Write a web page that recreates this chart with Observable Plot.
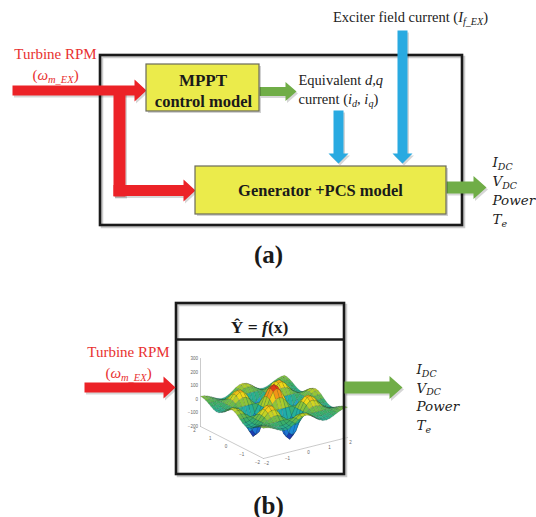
<!DOCTYPE html>
<html><head><meta charset="utf-8">
<script src="https://cdn.jsdelivr.net/npm/d3@7"></script>
<script src="https://cdn.jsdelivr.net/npm/@observablehq/plot@0.6"></script>
<style>html,body{margin:0;padding:0;background:#fff}svg{display:block}</style>
</head><body><div id="chart"></div>
<script>
// ================= DATA (text content and values) =================
const inputLabel = ["Turbine RPM", "(*ω*_{m_EX})"];
const outputLabels = ["*I*_{DC}", "*V*_{DC}", "*Power*", "*T*_{e}"];
const mpptLabel = ["MPPT", "control model"];
const generatorLabel = "Generator +PCS model";
const exciterLabel = "Exciter field current (*I*_{f_EX})";
const dqLabel = ["Equivalent *d*,*q*", "current (*i*_{d}, *i*_{q})"];
const surrogateLabel = "Ŷ = *f*(x)";
const panelLabels = ["(a)", "(b)"];

// 3-D surface thumbnail (symmetric): grid offsets from the centre (0..2) and estimated heights of one quadrant
const gridOffsets = [0, 0.167, 0.333, 0.5, 0.667, 0.833, 1, 1.167, 1.333, 1.5, 1.667, 1.833, 2];
const quadrantZ = [
  [150, 129, 72, 0, -110, -182, -195, -152, -68, 0, 32, 46, 40],
  [129, 110, 62, 0, -95, -157, -169, -131, -58, 0, 28, 39, 35],
  [72, 62, 35, 0, -54, -89, -95, -72, -32, 0, 16, 22, 20],
  [0, 0, 0, 0, 0, 0, 0, 0, 0, 0, 0, 0, 0],
  [-110, -95, -54, 0, 30, 48, 50, 39, 20, 0, -14, -20, -18],
  [-182, -157, -89, 0, 48, 77, 81, 63, 31, 0, -22, -30, -30],
  [-195, -169, -95, 0, 50, 81, 85, 65, 32, 0, -22, -31, -32],
  [-152, -131, -72, 0, 39, 63, 65, 50, 25, 0, -17, -26, -26],
  [-68, -58, -32, 0, 20, 31, 32, 25, 12, 0, -9, -13, -14],
  [0, 0, 0, 0, 0, 0, 0, 0, 0, 0, 0, 0, 0],
  [32, 28, 16, 0, -14, -22, -22, -17, -9, 0, 7, 11, 12],
  [46, 39, 22, 0, -20, -30, -31, -26, -13, 0, 11, 19, 20],
  [40, 35, 20, 0, -18, -30, -32, -26, -14, 0, 12, 20, 22]
];
const zTicks = [300, 200, 100, 0, -100, -200];
const uvTicks = [-2, -1, 0, 1, 2];

// ================= LAYOUT (diagram geometry in page pixels) =================
const W = 536, H = 517;
const RED = "#ec2227", GREEN = "#70ad47", BLUE = "#29aae1", YELLOW = "#ebeb4b", RED_TEXT = "#e8312f";
const frames = [
  {id: "frameA", x1: 100, y1: 55, x2: 462, y2: 225},
  {id: "frameB", x1: 176, y1: 303, x2: 344, y2: 474}
];
const boxes = [
  {id: "mppt", x1: 146, y1: 64, x2: 259, y2: 111},
  {id: "gen", x1: 195, y1: 166, x2: 446, y2: 214}
];
const arrowSpecs = [
  {from: [12, 90], to: [146, 90], w: 10, hl: 12, hw: 22, color: RED},
  {from: [119, 86], to: [119, 196], w: 12, hl: 0, hw: 0, color: RED},
  {from: [113, 190], to: [195, 190], w: 11, hl: 12, hw: 22, color: RED},
  {from: [259, 91], to: [296, 91], w: 9, hl: 11, hw: 19, color: GREEN},
  {from: [338, 110], to: [338, 163], w: 10, hl: 10, hw: 20, color: BLUE},
  {from: [402, 30], to: [402, 163], w: 10, hl: 10, hw: 20, color: BLUE},
  {from: [446, 187], to: [486, 187], w: 12, hl: 13, hw: 23, color: GREEN},
  {from: [84, 387], to: [175, 387], w: 10, hl: 12, hw: 22, color: RED},
  {from: [344, 387], to: [402, 387], w: 12, hl: 13, hw: 23, color: GREEN}
];
// 3-D projection of the thumbnail (u right-axis, v left-axis, z up)
const proj = (u, v, z) => [263 + 21 * (u + 2) - 15.75 * (v + 2), 458 - 5.25 * (u + 2) - 8 * (v + 2) - 0.136 * (z + 200)];

// ================= BUILD GEOMETRY =================
function arrowPoly(a, id, dx = 0, dy = 0) {
  const [x0, y0] = a.from, [x1, y1] = a.to;
  const L = Math.hypot(x1 - x0, y1 - y0), ux = (x1 - x0) / L, uy = (y1 - y0) / L;
  const nx = -uy, ny = ux;
  const bx = x1 - ux * a.hl, by = y1 - uy * a.hl;
  let pts;
  if (a.hl > 0) {
    pts = [[x0 + nx * a.w / 2, y0 + ny * a.w / 2], [bx + nx * a.w / 2, by + ny * a.w / 2], [bx + nx * a.hw / 2, by + ny * a.hw / 2],
      [x1, y1], [bx - nx * a.hw / 2, by - ny * a.hw / 2], [bx - nx * a.w / 2, by - ny * a.w / 2], [x0 - nx * a.w / 2, y0 - ny * a.w / 2]];
  } else {
    pts = [[x0 + nx * a.w / 2, y0 + ny * a.w / 2], [x1 + nx * a.w / 2, y1 + ny * a.w / 2], [x1 - nx * a.w / 2, y1 - ny * a.w / 2], [x0 - nx * a.w / 2, y0 - ny * a.w / 2]];
  }
  pts.push(pts[0]);
  return pts.map(([x, y]) => ({id, x: x + dx, y: y + dy, fill: a.color}));
}
const arrowPts = arrowSpecs.flatMap((a, i) => arrowPoly(a, "a" + i));
const arrowShadowPts = arrowSpecs.flatMap((a, i) => arrowPoly(a, "s" + i, 1.5, 2));

// full symmetric grid from the quadrant
const N = gridOffsets.length - 1;               // 12
const gridSteps = d3.range(-N, N + 1).map(k => Math.sign(k) * gridOffsets[Math.abs(k)]);
const zAt = (i, j) => quadrantZ[Math.abs(j - N)][Math.abs(i - N)];
const zAll = quadrantZ.flat();
const zMin = d3.min(zAll), zMax = d3.max(zAll);
const jet = d3.scaleLinear()
  .domain([0, .15, .3, .45, .56, .66, .74, .83, .92, 1])
  .range(["#16207a", "#1f4fd0", "#1d9bd6", "#22b0a0", "#3fae5e", "#a9cc2c", "#f2dc18", "#f39a18", "#ea4a18", "#d0141a"]);
const quads = [];
for (let j = 0; j < gridSteps.length - 1; j++) {
  for (let i = 0; i < gridSteps.length - 1; i++) {
    const c = [[i, j], [i + 1, j], [i + 1, j + 1], [i, j + 1]];
    const zAvg = d3.mean(c, ([a, b]) => zAt(a, b));
    const depth = gridSteps[i] + gridSteps[i + 1] + gridSteps[j] + gridSteps[j + 1];
    quads.push({c, zAvg, depth});
  }
}
quads.sort((a, b) => b.depth - a.depth);
const surfacePts = quads.flatMap((q, k) => {
  const col = jet((q.zAvg - zMin) / (zMax - zMin));
  return [...q.c, q.c[0]].map(([a, b]) => {
    const [x, y] = proj(gridSteps[a], gridSteps[b], zAt(a, b));
    return {id: k, x, y, fill: col};
  });
});

// thumbnail axes
const axisLines = [
  [proj(-2, 2, -200), proj(-2, 2, 300)],
  [proj(-2, 2, -200), proj(-2, -2, -200)],
  [proj(-2, -2, -200), proj(2, -2, -200)]
].flatMap((seg, k) => seg.map(([x, y]) => ({id: k, x, y})));
const fmt = t => String(t).replace("-", "−");
const zAxisText = zTicks.map(t => { const [x, y] = proj(-2, 2, t); return {x: x - 2.5, y, t: fmt(t)}; });
const vAxisText = uvTicks.map(t => { const [x, y] = proj(-2, t, -200); return {x: x - 6, y: y + 4, t: fmt(t)}; });
const uAxisText = uvTicks.map(t => { const [x, y] = proj(t, -2, -200); return {x: x + 3, y: y + 5, t: fmt(t)}; });

// ================= TEXT =================
const serif = "Liberation Serif";
const mathFont = "DejaVu Serif";
const redTexts = [
  {x: 55, y: 54, t: inputLabel[0]}, {x: 55, y: 75, t: inputLabel[1]},
  {x: 128, y: 352, t: inputLabel[0]}, {x: 128, y: 373, t: inputLabel[1]}
];
const exciterText = [{x: 410, y: 17, t: exciterLabel}];
const dqTexts = [{x: 298, y: 80, t: dqLabel[0]}, {x: 298, y: 99, t: dqLabel[1]}];
const boldTexts = [
  {x: 202.5, y: 80, t: mpptLabel[0], s: 17},
  {x: 203, y: 101, t: mpptLabel[1], s: 16.5},
  {x: 320, y: 190, t: generatorLabel, s: 16.5},
  {x: 259, y: 327, t: surrogateLabel, s: 17.5},
  {x: 268, y: 254, t: panelLabels[0], s: 25},
  {x: 268, y: 505, t: panelLabels[1], s: 25}
];
const outTexts = [
  ...outputLabels.map((t, i) => ({x: 492, y: 162 + i * 19, t})),
  ...outputLabels.map((t, i) => ({x: 416, y: 369 + i * 18.7, t}))
];

const rectOpts = {x1: "x1", y1: "y1", x2: "x2", y2: "y2"};
const axisFont = {x: "x", y: "y", text: "t", fontSize: 4.5, fill: "#666", fontFamily: "Liberation Sans"};
const chart = Plot.plot({
  width: W, height: H, margin: 0,
  x: {domain: [0, W], range: [0, W], axis: null},
  y: {domain: [0, H], range: [0, H], axis: null},
  marks: [
    // frame shadows
    Plot.rect(frames, {x1: d => d.x1 + 2, y1: d => d.y1 + 2, x2: d => d.x2 + 2, y2: d => d.y2 + 2, fill: "none", stroke: "#aaa", strokeWidth: 2.5, strokeOpacity: 0.6}),
    // thumbnail axes + surface
    Plot.line(axisLines, {x: "x", y: "y", z: "id", stroke: "#b5b5b5", strokeWidth: 0.7}),
    Plot.text(zAxisText, {...axisFont, textAnchor: "end"}),
    Plot.text(vAxisText, {...axisFont, textAnchor: "middle"}),
    Plot.text(uAxisText, {...axisFont, textAnchor: "middle"}),
    Plot.line(surfacePts, {x: "x", y: "y", z: "id", fill: "fill", stroke: "#10201c", strokeWidth: 0.3, strokeOpacity: 0.45, curve: "linear"}),
    // frames
    Plot.rect(frames, {...rectOpts, fill: "none", stroke: "#1a1a1a", strokeWidth: 2.6}),
    Plot.ruleY([339], {x1: 176, x2: 344, stroke: "#1a1a1a", strokeWidth: 2.6}),
    // arrows
    Plot.line(arrowShadowPts, {x: "x", y: "y", z: "id", fill: "#000", fillOpacity: 0.16, stroke: "none"}),
    Plot.line(arrowPts, {x: "x", y: "y", z: "id", fill: "fill", stroke: "none"}),
    // yellow blocks
    Plot.rect(boxes, {x1: d => d.x1 + 2, y1: d => d.y1 + 2, x2: d => d.x2 + 2, y2: d => d.y2 + 2, fill: "#000", fillOpacity: 0.18}),
    Plot.rect(boxes, {...rectOpts, fill: YELLOW, stroke: "#6a6a5a", strokeWidth: 1.2}),
    // text
    Plot.text(redTexts, {x: "x", y: "y", text: "t", fill: RED_TEXT, fontSize: 15, fontFamily: serif}),
    Plot.text(exciterText, {x: "x", y: "y", text: "t", textAnchor: "middle", fill: "#222", fontSize: 14.5, fontFamily: serif}),
    Plot.text(dqTexts, {x: "x", y: "y", text: "t", textAnchor: "start", fill: "#222", fontSize: 14.5, fontFamily: serif}),
    Plot.text(boldTexts, {x: "x", y: "y", text: "t", fontSize: "s", fontWeight: "bold", fill: "#1a1a1a", fontFamily: serif}),
    Plot.text(outTexts, {x: "x", y: "y", text: "t", textAnchor: "start", fontSize: 13.5, fill: "#222", fontFamily: mathFont})
  ]
});

// rich text: *italic* and _{subscript}
function richText(svg) {
  for (const t of svg.querySelectorAll("text")) {
    const s = t.textContent;
    if (!/_\{|\*/.test(s)) continue;
    const toks = [...s.matchAll(/_\{([^}]*)\}|\*([^*]*)\*|([^_*]+)/g)];
    t.textContent = "";
    let lowered = false;
    for (const m of toks) {
      const ts = document.createElementNS("http://www.w3.org/2000/svg", "tspan");
      if (m[1] !== undefined) {
        ts.textContent = m[1];
        ts.setAttribute("font-size", "70%");
        ts.setAttribute("font-style", "italic");
        if (!lowered) ts.setAttribute("dy", "0.3em");
        lowered = true;
      } else {
        ts.textContent = m[2] !== undefined ? m[2] : m[3];
        if (m[2] !== undefined) ts.setAttribute("font-style", "italic");
        if (lowered) ts.setAttribute("dy", "-0.21em");
        lowered = false;
      }
      t.appendChild(ts);
    }
  }
}
richText(chart);
document.getElementById("chart").appendChild(chart);
</script>
</body></html>
